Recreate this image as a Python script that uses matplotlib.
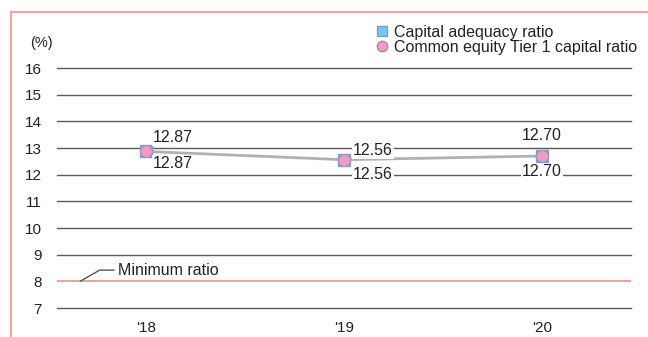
import matplotlib.pyplot as plt
from matplotlib.lines import Line2D

plt.rcParams['font.family'] = ['Liberation Sans', 'DejaVu Sans']

years = ["'18", "'19", "'20"]
car = [12.87, 12.56, 12.70]      # capital adequacy ratio
cet1 = [12.87, 12.56, 12.70]     # common equity Tier 1 capital ratio
minimum_ratio = 8
yticks = list(range(7, 17))

# label offsets (pixels) for the upper / lower value labels
upper_off = [(27, 14), (29, 9), (0, 21)]
lower_off = [(27, -12), (29, -15), (0, -16)]

W, H = 648, 337
fig = plt.figure(figsize=(W / 100, H / 100), dpi=100)
ax = fig.add_axes([57 / W, 1 - 308 / H, (631 - 57) / W, 240 / H])

xs = list(range(len(years)))
ax.set_xlim(-0.45, 2.45)
ax.set_ylim(7, 16)

for y in yticks:
    if y == minimum_ratio:
        continue
    ax.axhline(y, color='#5a5a5a', lw=1.0, zorder=1, clip_on=False)
ax.axhline(minimum_ratio, color='#f3a0a0', lw=1.4, zorder=1)

ax.plot(xs, car, color='#b0b0b8', lw=2, zorder=2)
ax.plot(xs, car, ls='none', marker='s', ms=8, mfc='#8d9cc0', mec='#8d9cc0', zorder=3)
ax.plot(xs, cet1, ls='none', marker='o', ms=6.8, mfc='#f59ac4', mec='#f59ac4', zorder=4)

box = dict(facecolor='white', edgecolor='none', pad=0.5)
for i in xs:
    ax.annotate(f'{car[i]:.2f}', (xs[i], car[i]), xytext=upper_off[i],
                textcoords='offset pixels', ha='center', va='center',
                fontsize=11.5, color='#222222', bbox=box, zorder=5)
    ax.annotate(f'{cet1[i]:.2f}', (xs[i], cet1[i]), xytext=lower_off[i],
                textcoords='offset pixels', ha='center', va='center',
                fontsize=11.5, color='#222222', bbox=box, zorder=5)

# minimum ratio leader
ax.annotate('Minimum ratio', xy=(-0.333, minimum_ratio), xytext=(-0.141, 8.42),
            ha='left', va='center', fontsize=11.5, color='#222222',
            arrowprops=dict(arrowstyle='-', color='#555555', lw=1,
                            connectionstyle='angle,angleA=0,angleB=30,rad=0',
                            shrinkA=1, shrinkB=0))

ax.set_xticks(xs)
ax.set_xticklabels(years)
ax.set_yticks(yticks)
ax.tick_params(length=0, labelsize=11, colors='#222222')
ax.tick_params(axis='x', pad=9)
ax.tick_params(axis='y', pad=11)
for s in ax.spines.values():
    s.set_visible(False)

fig.text(30 / W, 1 - 43 / H, '(%)', fontsize=10.5, color='#222222', va='center')

handles = [
    Line2D([], [], ls='none', marker='s', ms=7, mfc='#6ccdf2', mec='#8a9ab0'),
    Line2D([], [], ls='none', marker='o', ms=7.5, mfc='#f59ac4', mec='#9a90b0'),
]
fig.legend(handles, ['Capital adequacy ratio', 'Common equity Tier 1 capital ratio'],
           loc='upper left', bbox_to_anchor=(376 / W, 1 - 25 / H), frameon=False,
           fontsize=11.5, handlelength=0.8, handletextpad=0.35, labelspacing=0.0,
           borderpad=0, borderaxespad=0, labelcolor='#222222')

# pink frame on top and left
fig.add_artist(Line2D([11 / W, 1], [1 - 12 / H, 1 - 12 / H], color='#f5a3a3', lw=1.6))
fig.add_artist(Line2D([11 / W, 11 / W], [1 - 12 / H, 0], color='#f5a3a3', lw=1.6))

fig.savefig('out.png', dpi=100)
